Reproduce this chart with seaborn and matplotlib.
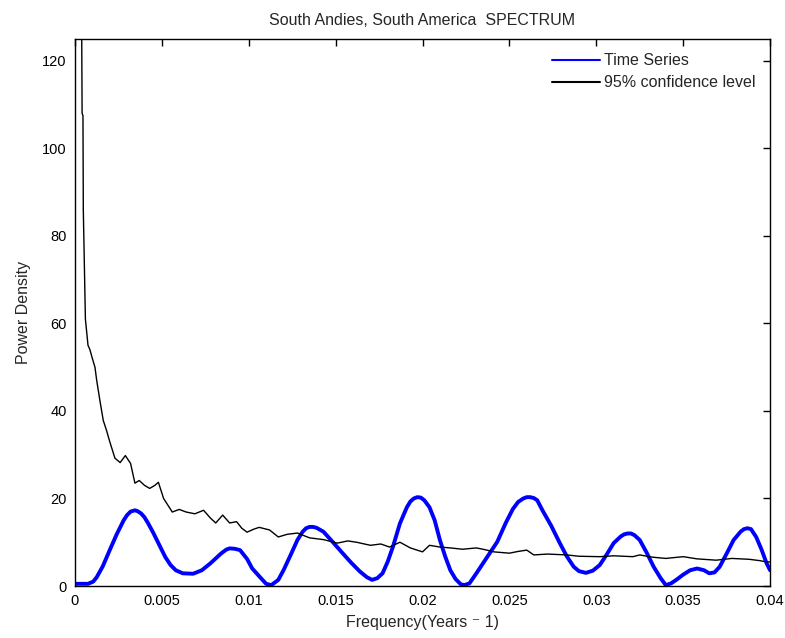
import numpy as np
import pandas as pd
import matplotlib
matplotlib.use("Agg")
import matplotlib.pyplot as plt
import seaborn as sns

# Time series spectrum (blue)
ts_freq = [0.0, 0.00075, 0.00105, 0.00125, 0.0016, 0.002, 0.0024, 0.0028, 0.003, 0.0032, 0.00345, 0.0036,
           0.0038, 0.004, 0.0042, 0.0045, 0.0049, 0.0052, 0.0055, 0.0058, 0.0062, 0.0068, 0.0073, 0.0078,
           0.0084, 0.0087, 0.0089, 0.0092, 0.0095, 0.0099, 0.0102, 0.0107, 0.011, 0.0113, 0.0117, 0.012,
           0.0124, 0.0128, 0.0131, 0.0133, 0.0135, 0.0137, 0.0139, 0.0143, 0.0148, 0.0154, 0.0159, 0.0164,
           0.0168, 0.0171, 0.0174, 0.0177, 0.018, 0.0183, 0.0187, 0.0191, 0.0193, 0.0195, 0.0197, 0.0199,
           0.0201, 0.0204, 0.0207, 0.021, 0.0213, 0.0216, 0.0219, 0.0222, 0.0224, 0.0227, 0.0231, 0.0237,
           0.0243, 0.0248, 0.0252, 0.0255, 0.0258, 0.026, 0.0262, 0.0264, 0.0266, 0.0269, 0.0274, 0.0279,
           0.0283, 0.0287, 0.029, 0.0294, 0.0298, 0.0302, 0.0306, 0.031, 0.0314, 0.0316, 0.0318, 0.032,
           0.0322, 0.0325, 0.0329, 0.0333, 0.0337, 0.034, 0.0343, 0.0346, 0.035, 0.0354, 0.0358, 0.0362,
           0.0365, 0.0368, 0.0371, 0.0375, 0.0379, 0.0383, 0.0385, 0.0387, 0.0389, 0.0392, 0.0395, 0.0398, 0.04]
ts_power = [0.5, 0.5, 1.0, 2.0, 4.5, 8.2, 11.8, 15.0, 16.2, 17.0, 17.3, 17.1,
            16.6, 15.7, 14.4, 12.2, 9.0, 6.6, 4.8, 3.6, 2.9, 2.8, 3.6, 5.2,
            7.4, 8.3, 8.6, 8.5, 8.2, 6.2, 4.0, 1.8, 0.5, 0.2, 1.4, 3.6,
            7.0, 10.5, 12.4, 13.2, 13.5, 13.5, 13.3, 12.4, 10.2, 7.5, 5.3, 3.3,
            2.0, 1.4, 1.8, 2.9, 5.6, 9.0, 14.3, 18.0, 19.3, 20.0, 20.3, 20.2,
            19.6, 18.0, 15.0, 10.5, 6.8, 3.6, 1.6, 0.4, 0.2, 0.6, 2.9, 6.5,
            10.1, 14.5, 17.6, 19.2, 20.0, 20.3, 20.3, 20.1, 19.6, 17.3, 13.8, 9.8,
            6.8, 4.4, 3.4, 3.0, 3.5, 4.8, 7.2, 9.8, 11.3, 11.8, 12.0, 12.0,
            11.6, 10.5, 7.6, 4.4, 1.8, 0.2, 0.6, 1.4, 2.6, 3.6, 4.0, 3.6,
            2.9, 3.1, 4.4, 7.4, 10.5, 12.4, 13.0, 13.2, 13.0, 11.2, 8.4, 5.2, 3.6]

# 95% confidence level (black)
cl_freq = [0.00039, 0.00041, 0.00046, 0.00048, 0.0006, 0.00075, 0.00086, 0.001, 0.00115, 0.00125, 0.00145,
           0.00163, 0.00182, 0.002, 0.0023, 0.0026, 0.0029, 0.0032, 0.00345, 0.0037, 0.004, 0.0043, 0.0046,
           0.0048, 0.0051, 0.0056, 0.006, 0.0064, 0.0069, 0.0074, 0.0078, 0.0081, 0.0085, 0.0089, 0.0093,
           0.0096, 0.0099, 0.0103, 0.0106, 0.0112, 0.0117, 0.0122, 0.0128, 0.0135, 0.0143, 0.0151, 0.0157,
           0.0162, 0.017, 0.0176, 0.0181, 0.0187, 0.0193, 0.02, 0.0204, 0.021, 0.0216, 0.0223, 0.0231,
           0.0236, 0.0241, 0.025, 0.0255, 0.026, 0.0264, 0.0272, 0.0283, 0.029, 0.0302, 0.031, 0.0321,
           0.0325, 0.0332, 0.034, 0.035, 0.0358, 0.0369, 0.0378, 0.0388, 0.0394, 0.0398, 0.04]
cl_power = [125.0, 108.0, 107.5, 86.0, 61.0, 55.0, 54.0, 52.0, 50.0, 47.0, 42.0,
            37.8, 35.5, 33.0, 29.2, 28.2, 29.8, 28.0, 23.5, 24.1, 23.0, 22.3, 23.0,
            23.7, 20.0, 16.9, 17.5, 16.9, 16.5, 17.3, 15.5, 14.4, 16.2, 14.4, 14.7,
            13.2, 12.3, 13.0, 13.4, 12.8, 11.2, 11.8, 12.1, 11.0, 10.6, 9.8, 10.3,
            10.0, 9.3, 9.6, 8.9, 10.0, 8.7, 7.8, 9.3, 8.9, 8.7, 8.4, 8.7,
            8.3, 7.8, 7.5, 7.9, 8.2, 7.1, 7.3, 7.1, 6.8, 6.7, 6.9, 6.7,
            7.1, 6.6, 6.3, 6.7, 6.2, 5.9, 6.3, 6.1, 5.8, 5.5, 5.5]

x_ticks = [0, 0.005, 0.01, 0.015, 0.02, 0.025, 0.03, 0.035, 0.04]
x_tick_labels = ["0", "0.005", "0.01", "0.015", "0.02", "0.025", "0.03", "0.035", "0.04"]
y_ticks = [0, 20, 40, 60, 80, 100, 120]

sns.set_style("white")
plt.rcParams['font.family'] = ['Liberation Sans', 'DejaVu Sans']

fig = plt.figure(figsize=(7.85, 6.38), dpi=100)
ax = fig.add_axes([0.0955, 0.0815, 0.8855, 0.8575])

ts_df = pd.DataFrame({"freq": ts_freq, "power": ts_power})
cl_df = pd.DataFrame({"freq": cl_freq, "power": cl_power})

sns.lineplot(data=ts_df, x="freq", y="power", ax=ax, color="#0000ff", linewidth=2.8,
             sort=False, estimator=None, label="Time Series")
sns.lineplot(data=cl_df, x="freq", y="power", ax=ax, color="black", linewidth=1.0,
             sort=False, estimator=None, label="95% confidence level")

ax.set_xlim(0, 0.04)
ax.set_ylim(0, 125)
ax.set_xticks(x_ticks)
ax.set_xticklabels(x_tick_labels)
ax.set_yticks(y_ticks)
ax.tick_params(direction="in", top=True, right=True, length=5, width=1, labelsize=10.5, colors="black",
               pad=6)
for s in ax.spines.values():
    s.set_color("black")
    s.set_linewidth(1.0)

ax.set_xlabel("Frequency(Years \u207b 1)", fontsize=11.5, labelpad=5)
ax.set_ylabel("Power Density", fontsize=11.5, labelpad=8)
ax.set_title("South Andies, South America  SPECTRUM", fontsize=11.5, pad=10)

leg = ax.legend(loc="upper right", frameon=False, fontsize=11.5, handlelength=3.05, borderaxespad=0.5,
                labelspacing=0.45, handletextpad=0.25)
for line in leg.get_lines():
    line.set_linewidth(1.5)

fig.savefig("out.png", dpi=100, facecolor="white")
